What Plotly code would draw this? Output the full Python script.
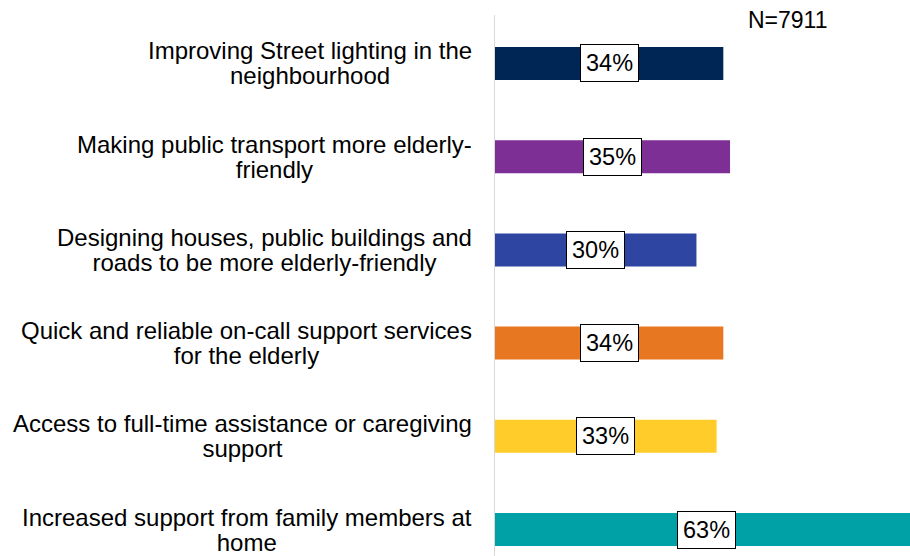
import plotly.graph_objects as go

categories = [
    "Improving Street lighting in the<br>neighbourhood",
    "Making public transport more elderly-<br>friendly",
    "Designing houses, public buildings and<br>roads to be more elderly-friendly",
    "Quick and reliable on-call support services<br>for the elderly",
    "Access to full-time assistance or caregiving<br>support",
    "Increased support from family members at<br>home",
]
values = [34, 35, 30, 34, 33, 63]
colors = ["#002655", "#7E2F96", "#2E45A1", "#E87722", "#FFCC29", "#00A1A6"]
sample_note = "N=7911"

FONT = "Liberation Sans, Arial, sans-serif"
idx = list(range(len(categories)))


def big(txt, px=24):
    # larger glyphs on each line while the line pitch follows the base font size
    return "<br>".join(f'<span style="font-size:{px}px">{ln}</span>' for ln in txt.split("<br>"))


fig = go.Figure()
fig.add_trace(go.Bar(
    x=values,
    y=idx,
    orientation="h",
    marker=dict(color=colors, line=dict(width=0)),
    width=0.354,
    hoverinfo="skip",
))

annotations = []
# category labels, centred lines in a right-aligned block
for i, cat in enumerate(categories):
    annotations.append(dict(
        x=-0.050, xref="paper", y=i, yref="y",
        text=big(cat), showarrow=False, xanchor="right", yanchor="middle",
        align="center", font=dict(family=FONT, size=19.5, color="#000000"),
    ))
# boxed value labels in the middle of each bar
for i, v in enumerate(values):
    annotations.append(dict(
        x=v / 2, xref="x", y=i, yref="y",
        text=f"{v}%", showarrow=False, xanchor="center", yanchor="middle",
        font=dict(family=FONT, size=23.5, color="#000000"),
        bgcolor="#FFFFFF", bordercolor="#000000", borderwidth=1, borderpad=5,
    ))
annotations.append(dict(
    x=0.605, xref="paper", y=0.99, yref="paper",
    text=sample_note, showarrow=False, xanchor="left", yanchor="middle",
    font=dict(family=FONT, size=23, color="#000000"),
))

fig.update_layout(
    width=910, height=556,
    margin=dict(l=495, r=0, t=15, b=0),
    paper_bgcolor="#FFFFFF", plot_bgcolor="#FFFFFF",
    showlegend=False,
    xaxis=dict(range=[0, 61.8], visible=False, fixedrange=True),
    yaxis=dict(range=[5.284, -0.52], showticklabels=False, showgrid=False,
               zeroline=False, showline=True, linecolor="#D9D9D9", linewidth=1,
               ticks=""),
    annotations=annotations,
)

fig.write_html("out.html")
